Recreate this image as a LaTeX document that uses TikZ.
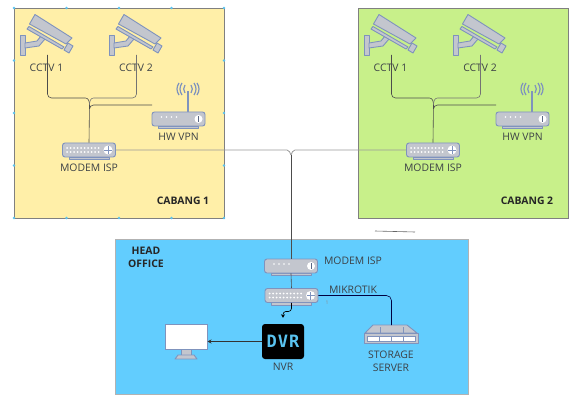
\documentclass[tikz,border=0pt]{standalone}
\usepackage{fontspec}
\setmainfont{Open Sans}
\newfontfamily\dvrfont[LetterSpace=6]{DejaVu Sans Mono}
\usetikzlibrary{positioning,arrows.meta,calc}
\definecolor{vyellow}{RGB}{255,239,168}
\definecolor{vgreen}{RGB}{200,240,138}
\definecolor{vblue}{RGB}{98,205,254}
\definecolor{vgray}{RGB}{195,198,206}
\definecolor{vedge}{RGB}{127,147,189}
\definecolor{vtext}{RGB}{60,65,70}
\definecolor{vdvr}{RGB}{90,195,240}
\tikzset{
  roombox/.style={draw=#1,line width=0.8pt},
  devbox/.style={draw=vedge,fill=vgray,line width=0.9pt,rounded corners=2.5pt,minimum width=53pt,minimum height=14pt,inner sep=0pt},
  lbl/.style={font=\fontsize{10.4}{13}\selectfont,text=vtext,align=center,inner sep=0pt},
  bold/.style={font=\fontsize{10.4}{13}\selectfont\bfseries,text=black!85,align=center,inner sep=0pt},
  wire/.style={draw=black!70,line width=0.6pt},
  link/.style={draw=black!40,line width=0.8pt},
  icon/.style={draw=vedge,fill=vgray,line width=0.9pt,line join=round}
}
\newcommand{\cctvcam}[3]{\begin{scope}[shift={(#2,#3)}]
  \draw[icon] (0,20) rectangle (5,40);
  \draw[icon] (5,28)--(17,26)--(21,21)--(25,24)--(19,31)--(5,33)--cycle;
  \draw[icon] (9.5,9)--(15,-0.5)--(52,23)--(46,29)--cycle;
  \draw[icon] (7,14)--(9,11.5)--(44,32)--(42,34)--cycle;
  \draw[icon] (48,28)--(53,31)--(49,38)--(44,35)--cycle;
  \coordinate (#1) at (27.5,40);
\end{scope}}
\newcommand{\modembox}[3]{\begin{scope}[shift={(#2,#3)}]
  \draw[icon] (-20,7) rectangle (20,9.5);
  \node[devbox] (#1) at (0,0) {};
  \foreach \rowy in {-2,2} \foreach \dotx in {-22,-18.5,...,10}
    \fill[white] (\dotx,\rowy) circle (1pt);
  \fill[white] (19,0) circle (4.5pt);
  \draw[vedge,line width=0.4pt] (15,0)--(23,0) (19,-4)--(19,4);
\end{scope}}
\newcommand{\vpnbox}[3]{\begin{scope}[shift={(#2,#3)}]
  \draw[icon] (-20,7) rectangle (20,9.5);
  \node[devbox] (#1) at (0,0) {};
  \foreach \dotx in {-17,-12,-7,-2} \fill[white] (\dotx,-2) circle (0.9pt);
  \fill[white] (20,0) circle (4pt);
  \draw[vedge!70!black,line width=0.7pt] (20,-2.8)--(20,2.8);
\end{scope}}
\newcommand{\hwvpn}[3]{\begin{scope}[shift={(#2,#3)}]
  \draw[vedge,line width=1.8pt] (9.5,-7)--(9.5,-28);
  \draw[vedge,line width=1.2pt] (6.5,-34) to[bend right=35] (6.5,-26) (3.5,-36) to[bend right=35] (3.5,-24) (0.5,-36) to[bend right=35] (0.5,-24)
    (12.5,-34) to[bend left=35] (12.5,-26) (15.5,-36) to[bend left=35] (15.5,-24) (18.5,-36) to[bend left=35] (18.5,-24);
\end{scope}\vpnbox{#1}{#2}{#3}}
\newcommand{\cabang}[4]{\begin{scope}[shift={(#2,0)}]
  \draw[roombox=black!50,fill=#3] (14,8) rectangle (224,218);
  \cctvcam{#1camA}{20}{15}
  \cctvcam{#1camB}{109}{15}
  \node[lbl] (#1lblA) at (46.5,68) {CCTV 1};
  \node[lbl] (#1lblB) at (136,68) {CCTV 2};
  \hwvpn{#1vpn}{178.5}{119}
  \node[lbl] (#1lblvpn) at (178.5,137) {HW VPN};
  \modembox{#1modem}{89}{150}
  \node[lbl] (#1lblmodem) at (89,168) {MODEM ISP};
  \node[bold] (#1name) at (183,201) {#4};
  \coordinate (#1joint) at (89.5,105);
  \coordinate (#1vpnin) at (152,105);
  \draw[wire] (#1camA) -- ++(0,39) to[out=-90,in=180] ++(4,4) -- ($(#1joint)+(-4,-7)$) to[out=0,in=90] (#1joint);
  \draw[wire,draw=black!55] (#1camB) -- ++(0,39) to[out=-90,in=0] ++(-4,4) -- ($(#1joint)+(4,-7)$) to[out=180,in=90] (#1joint);
  \draw[wire] (#1vpnin) -- ($(#1joint)+(4,0)$) to[out=180,in=90] ($(#1joint)+(0,4)$);
  \draw[wire] (#1joint) -- (#1modem.north);
\end{scope}}

\begin{document}
\begin{tikzpicture}[x=1pt,y=-1pt]
  \useasboundingbox (0,0) rectangle (582,404);
  \cabang{a}{0}{vyellow}{CABANG 1}
  \cabang{b}{344}{vgreen}{CABANG 2}
  % handles on the first room
  \foreach \hx/\hy in {14/8,66.5/8,119/8,171.5/8,224/8,14/60.5,224/60.5,14/113,224/113,14/165.5,224/165.5,14/218,66.5/218,119/218,171.5/218,224/218}
    \fill[vdvr] (\hx,\hy) circle (1.3pt);
  \draw[roombox=black!30,fill=vblue] (115,239) rectangle (468,394);
  \node[bold] (honame) at (146,257) {HEAD\\OFFICE};
  \modembox{homik}{291.5}{295.5}
  \vpnbox{homodem}{291}{266}
  \node[lbl] (lblhomodem) at (353,261) {MODEM ISP};
  \node[lbl] (lblhomik) at (353,290) {MIKROTIK};
  \node[lbl,font=\tiny,text=black!45] (markone) at (327,303) {1};
  % head office devices
  \node[draw=vedge,fill=white,line width=1pt,minimum width=42pt,minimum height=25pt,inner sep=0pt] (screen) at (186,336.5) {};
  \draw[icon] (181,349) rectangle (191,355);
  \draw[icon] (175,359)--(178,355)--(194,355)--(197,359)--cycle;
  \node[fill=black,rounded corners=3pt,minimum width=42pt,minimum height=35pt,inner sep=0pt,text=vdvr,font=\dvrfont\fontsize{17}{17}\selectfont\bfseries] (nvr) at (283,341.5) {DVR};
  \node[lbl] (lblnvr) at (283,367) {NVR};
  \draw[icon] (365,333)--(373,325)--(407,325)--(417,333)--cycle;
  \coordinate (server) at (391.5,325);
  \draw[icon] (364,333) rectangle (418,343);
  \draw[vedge,fill=white,line width=0.5pt] (367,336) rectangle (415,341);
  \draw[vedge,line width=0.5pt] (380,327)--(380,333) (403,327)--(403,333) (379,336)--(379,341) (391,336)--(391,341) (403,336)--(403,341);
  \node[lbl] (lblserver) at (391,361) {STORAGE\\SERVER};
  % links
  \coordinate (trunk) at (291,155);
  \draw[link] (amodem.east) -- ($(trunk)+(-4,-5)$) to[out=0,in=120] (trunk);
  \draw[link] (bmodem.west) -- ($(trunk)+(4,-5)$) to[out=180,in=60] (trunk);
  \draw[wire] (trunk) -- (homodem.north);
  \draw[wire] (homodem.south) -- (homik.north);
  \draw[wire,-{Stealth[length=3.5pt,width=4pt]},black,rounded corners=3pt,shorten >=6pt] (homik.south) -- ++(0,8.5) -- ++(-8.5,0) -- (nvr.north);
  \draw[wire,black!75!blue,rounded corners=5pt] (homik.east) -- ++(73,0) -- (server);
  \draw[wire,-{Stealth[length=4pt,width=4pt]},black!80] (nvr.west) -- (screen.east |- nvr.west);
  \coordinate (strayA) at (375,231);
  \coordinate (strayB) at (415,232);
  \draw[draw=black!60,line width=0.6pt] (strayA) -- (strayB);
\end{tikzpicture}
\end{document}
